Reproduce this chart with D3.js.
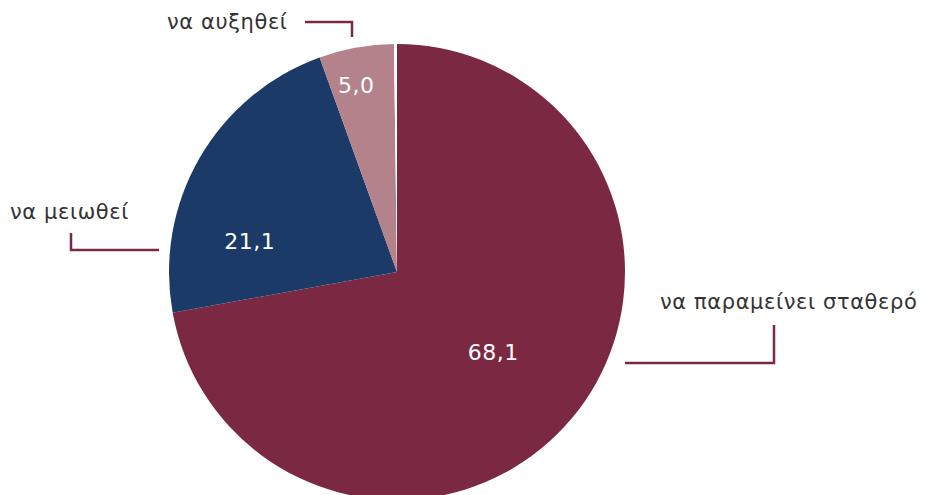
<!DOCTYPE html>
<html>
<head>
<meta charset="utf-8">
<script src="https://cdn.jsdelivr.net/npm/d3@7"></script>
<style>
	body { margin: 0; background: #fff; }
	svg { display: block; }
</style>
</head>
<body>
<div id="chart"></div>
<script>
"use strict";

// chart data
const categories = ["να παραμείνει σταθερό", "να μειωθεί", "να αυξηθεί", ""];
const values = [68.1, 21.1, 5.0, 0.2];
const valueLabels = ["68,1", "21,1", "5,0", ""];
const colors = ["#7b2942", "#1c3a68", "#b3828a", "#ffffff"];

const WIDTH = 926, HEIGHT = 495;
const cx = 397, cy = 272, radius = 228;
const FONT = "'DejaVu Sans', sans-serif";

// where the value text sits inside each slice (fraction of radius, angle nudge in degrees)
const labelRadius = [0.55, 0.66, 0.84, 0];
const labelNudge = [0, -18, -2, 0];

// callout for each outside label: text anchor point and leader line, relative to pie centre
const callouts = [
	{ text: [263, 30], path: [[228, 91], [377, 91], [377, 53]], anchor: "start" },
	{ text: [-387, -60], path: [[-238, -22], [-326, -22], [-326, -39]], anchor: "start" },
	{ text: [-230, -250], path: [[-92, -250], [-45, -250], [-45, -235]], anchor: "start" }
];

const svg = d3.select("#chart").append("svg")
	.attr("width", WIDTH)
	.attr("height", HEIGHT);

const g = svg.append("g").attr("transform", "translate(" + cx + "," + cy + ")");

const pie = d3.pie().sort(null).value(function (d) { return d; });
const arcs = pie(values);

const arc = d3.arc().innerRadius(0).outerRadius(radius);

g.selectAll("path.slice")
	.data(arcs)
	.enter()
	.append("path")
	.attr("class", "slice")
	.attr("d", arc)
	.style("fill", function (d, i) { return colors[i]; });

// values inside slices
g.selectAll("text.value")
	.data(arcs)
	.enter()
	.append("text")
	.attr("class", "value")
	.attr("transform", function (d, i) {
		let a = (d.startAngle + d.endAngle) / 2 + labelNudge[i] * Math.PI / 180;
		let r = radius * labelRadius[i];
		return "translate(" + (r * Math.sin(a)) + "," + (-r * Math.cos(a)) + ")";
	})
	.attr("text-anchor", "middle")
	.attr("dy", "0.35em")
	.style("font-family", FONT)
	.style("font-size", "22px")
	.style("letter-spacing", "0.5px")
	.style("fill", "#fff")
	.text(function (d, i) { return valueLabels[i]; });

// outside labels with leader lines
const line = d3.line();
callouts.forEach(function (c, i) {
	g.append("path")
		.attr("d", line(c.path))
		.style("fill", "none")
		.style("stroke", "#7b2942")
		.style("stroke-width", "2.5px");

	g.append("text")
		.attr("x", c.text[0])
		.attr("y", c.text[1])
		.attr("dy", "0.35em")
		.attr("text-anchor", c.anchor)
		.style("font-family", FONT)
		.style("font-size", "21px")
		.style("letter-spacing", "0.6px")
		.style("fill", "#333")
		.text(categories[i]);
});
</script>
</body>
</html>
